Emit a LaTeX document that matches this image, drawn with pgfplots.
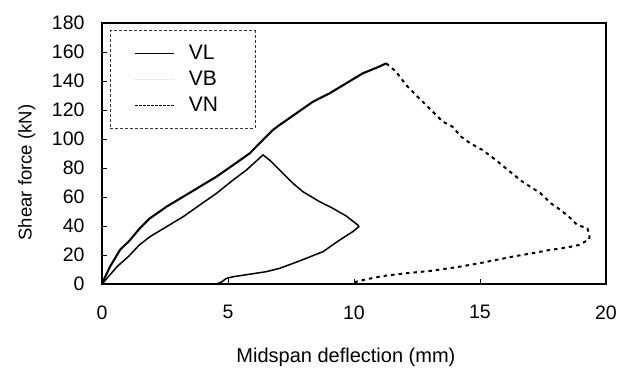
\documentclass[border=0pt]{standalone}
\usepackage{fontspec}
\setmainfont{Liberation Sans}
\usepackage{pgfplots}
\pgfplotsset{compat=1.18}
\begin{document}
\begin{tikzpicture}
\begin{axis}[name=ax,
  width=504pt, height=261pt, scale only axis,
  xmin=0, xmax=20, ymin=0, ymax=180,
  xtick={0,5,...,20}, ytick={0,20,...,180},
  tick align=inside, xtick pos=left, ytick pos=left,
  major tick length=5pt,
  every tick/.style={black, line width=0.9pt},
  axis line style={line width=1.6pt},
  /pgf/number format/assume math mode=true,
  tick label style={font=\fontsize{19.5}{22}\selectfont},
  yticklabel style={xshift=-14pt},
  xticklabel style={yshift=-18pt},
  label style={font=\fontsize{18.5}{21}\selectfont},
  xlabel={Midspan deflection (mm)},
  ylabel={Shear force (kN)},
  xlabel style={at={(axis description cs:0.484,-0.28)}, anchor=center, font=\fontsize{20}{23}\selectfont},
  ylabel style={at={(axis description cs:-0.149,0.427)}, anchor=center},
  legend style={at={(axis description cs:0.016,0.973)}, anchor=north west,
    draw=black!80, densely dashed, line width=0.6pt,
    font=\fontsize{21}{24}\selectfont,
    inner xsep=24pt, inner ysep=13pt, row sep=6pt, column sep=12pt,
    cells={anchor=west}},
  legend image code/.code={\draw[#1] (0pt,0pt) -- (39pt,0pt);},
]
% VL
\addplot[forget plot, black, solid, line width=1.5pt] coordinates {
(0,0) (0.3,6) (0.6,12) (1.07,19.3) (1.48,26.9) (1.9,32.6) (2.56,39.5) (3.22,46.4)
(3.88,54.5) (4.54,62.5) (5.2,71.7) (5.73,78.6) (6.39,89) (6.65,85.5) (7.05,78.6)
(7.58,69.4) (7.97,63.7) (8.63,56.8) (9.16,52.2) (9.69,46.9) (10.15,40.7) (10.19,39.5)
(9.95,36.1) (9.43,30.3) (8.77,22.3) (7.84,15.9) (7.05,10.8) (6.52,8.5) (5.2,5)
(4.94,3.9) (4.75,1.5) (4.55,0)
};
% VN loading
\addplot[forget plot, black, solid, line width=2.1pt] coordinates {
(0,0) (0.1,4) (0.32,12) (0.71,23.4) (1.11,30.3) (1.5,38.4) (1.9,45.3) (2.56,53.3)
(3.22,60.2) (3.88,67.1) (4.54,74) (5.2,82) (5.86,90.1) (6.78,106.2) (7.05,109.7)
(7.71,117.7) (8.37,125.7) (9.03,131.5) (9.69,138.4) (10.35,145.3) (11.0,149.9) (11.28,152.2)
};
% VN post-peak and unloading
\addplot[forget plot, black, dash pattern=on 3.5pt off 4pt, line width=2pt] coordinates {
(11.28,152.2) (11.67,146.4) (12.07,137.2) (12.59,128) (13.06,120) (13.52,112) (13.91,108.5)
(14.25,101.6) (14.6,97.2) (15.1,92.4) (15.63,85.5) (16.29,76) (16.69,70.5) (17.4,62.6)
(17.81,55.7) (18.2,51) (18.53,46.4) (18.86,40.7) (19.26,38.4) (19.35,33.8) (19.33,30.8)
(18.93,26.9) (18.4,25) (17.74,23.4) (17.08,21.2) (16.42,19.3) (15.96,17.7) (14.97,14.3)
(14.18,11.9) (13.12,9.2) (12.07,7.4) (11.14,5.5) (10.48,3.2) (10.09,1.6) (10.0,0)
};
\addlegendimage{black, solid, line width=1.5pt}
\addlegendentry{\makebox[40pt][l]{VL}}
\addlegendimage{draw=black!12, densely dotted, line width=0.6pt}
\addlegendentry{\makebox[40pt][l]{VB}}
\addlegendimage{black, dash pattern=on 2.5pt off 1.5pt, line width=1.4pt}
\addlegendentry{\makebox[40pt][l]{VN}}
\end{axis}
\pgfresetboundingbox
\path ([shift={(-102pt,-86pt)}]ax.south west) rectangle ([shift={(13pt,23pt)}]ax.north east);
\end{tikzpicture}
\end{document}
